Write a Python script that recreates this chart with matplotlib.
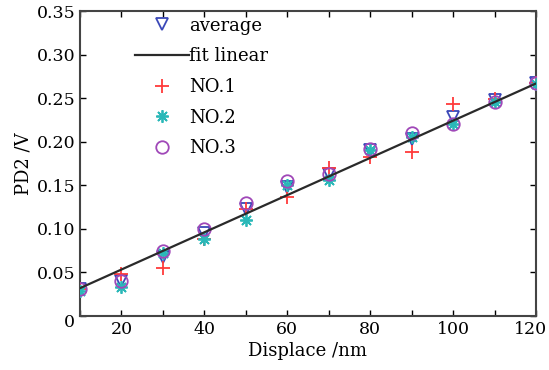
import numpy as np
import matplotlib
matplotlib.use("Agg")
import matplotlib.pyplot as plt
import matplotlib.transforms as mtransforms

# data
displace = [10, 20, 30, 40, 50, 60, 70, 80, 90, 100, 110, 120]
no1 = [0.031, 0.048, 0.055, 0.088, 0.123, 0.137, 0.170, 0.183, 0.188, 0.243, 0.249, 0.267]
no2 = [0.029, 0.033, 0.072, 0.088, 0.110, 0.150, 0.156, 0.190, 0.206, 0.220, 0.246, 0.266]
no3 = [0.031, 0.040, 0.075, 0.100, 0.130, 0.155, 0.163, 0.192, 0.210, 0.220, 0.246, 0.267]
average = [0.031, 0.040, 0.068, 0.095, 0.123, 0.148, 0.163, 0.190, 0.203, 0.228, 0.248, 0.268]
# linear fit as drawn in the reference
fit_slope = 0.002136
fit_intercept = 0.0106

plt.rcParams['font.family'] = ['DejaVu Serif']
plt.rcParams['font.size'] = 12.5

fig = plt.figure(figsize=(5.49, 3.70), dpi=100)
ax = fig.add_axes([0.1457, 0.146, 0.8306, 0.824])

x = np.array(displace)

ax.plot(x, average, ls='none', marker='v', ms=9, mfc='none', mec='#3a48b8', mew=1.3, label='average')
ax.plot(x, no1, ls='none', marker='+', ms=10, mec='#ff3a3a', mew=1.3, label='NO.1', zorder=3)
ax.plot(x, no2, ls='none', marker=(8, 2, 0), ms=9, mec='#2ab8b8', mew=1.3, label='NO.2', zorder=3)
ax.plot(x, no3, ls='none', marker='o', ms=9, mfc='none', mec='#a048b8', mew=1.3, label='NO.3', zorder=3)
xf = np.array([10, 120])
ax.plot(xf, fit_slope * xf + fit_intercept, color='#2a2a2a', lw=1.6, label='fit linear', zorder=4)

h, l = ax.get_legend_handles_labels()
order = [0, 4, 1, 2, 3]
ax.legend([h[i] for i in order], [l[i] for i in order], loc='upper left',
          bbox_to_anchor=(0.085, 1.035), frameon=False, handlelength=3.0,
          handletextpad=0.0, labelspacing=0.7, fontsize=13)

ax.set_xlim(10, 120)
ax.set_ylim(0, 0.35)
ax.set_xticks(np.arange(10, 121, 10))
ax.set_xticklabels(['' if v % 20 else str(v) for v in range(10, 121, 10)])
yt = np.arange(0, 0.351, 0.05)
ax.set_yticks(yt)
ax.set_yticklabels(['0'] + ['%.2f' % v for v in yt[1:]])
ax.tick_params(direction='in', top=True, right=True, length=4, width=1, labelsize=12.5)
for s in ax.spines.values():
    s.set_linewidth(1.5)
    s.set_color('#444444')

# last x label pulled in a little so it stays inside the figure
last = ax.get_xticklabels()[-1]
last.set_transform(last.get_transform() + mtransforms.ScaledTranslation(-5 / 100, 0, fig.dpi_scale_trans))
# "0" on the y axis sits a bit low in the reference
zero = ax.get_yticklabels()[0]
zero.set_transform(zero.get_transform() + mtransforms.ScaledTranslation(0, -5 / 100, fig.dpi_scale_trans))

ax.set_xlabel('Displace /nm', fontsize=13, labelpad=3)
ax.set_ylabel('PD2 /V', fontsize=13, labelpad=3)

fig.savefig('out.png', dpi=100)
